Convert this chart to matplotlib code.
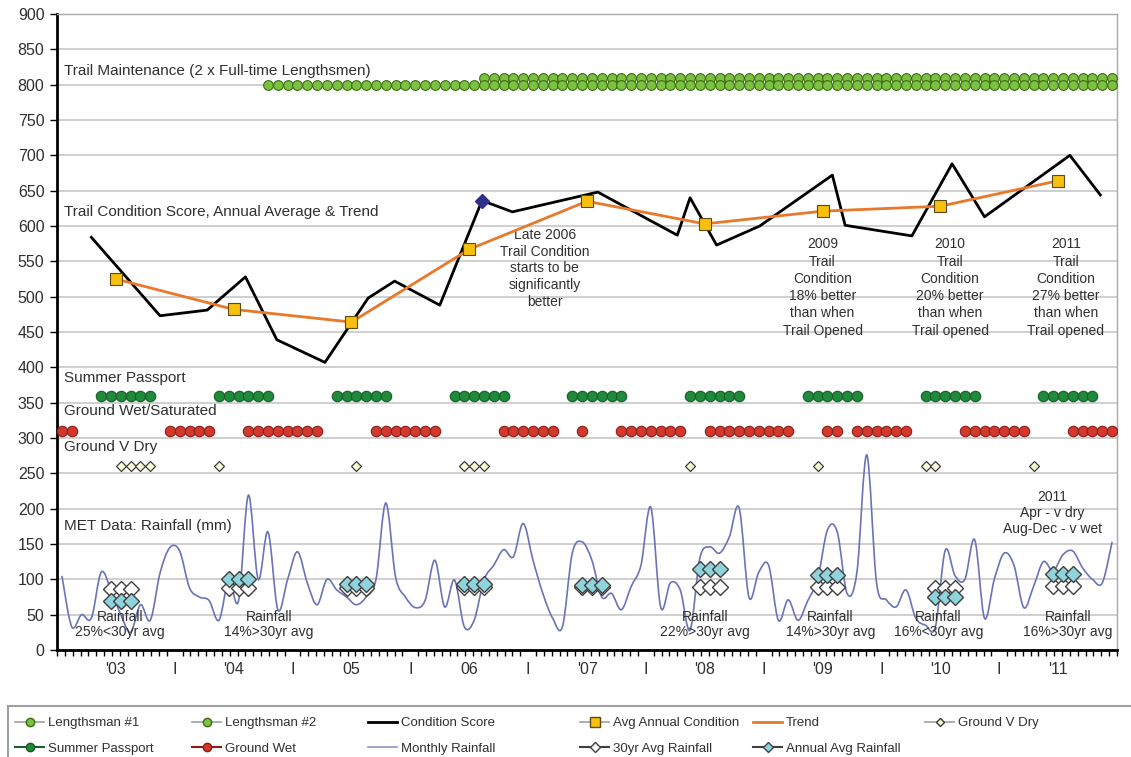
import numpy as np
import matplotlib
matplotlib.use("Agg")
import matplotlib.pyplot as plt
from matplotlib.lines import Line2D
from matplotlib.path import Path
from matplotlib.patches import PathPatch, Rectangle

plt.rcParams["font.family"] = ["Liberation Sans", "DejaVu Sans"]

# months counted from Jan 2003 (0) to Dec 2011 (107)
N_MONTHS = 108

LENGTHSMAN_1_START = 21   # Oct 2004
LENGTHSMAN_2_START = 43   # Aug 2006
LENGTHSMAN_1_LEVEL = 800
LENGTHSMAN_2_LEVEL = 810

SUMMER_MONTHS = [m for y in range(9) for m in range(12 * y + 4, 12 * y + 10)]
SUMMER_LEVEL = 360

GROUND_WET_MONTHS = ([0, 1] + list(range(11, 16)) + list(range(19, 27)) + list(range(32, 39))
                     + list(range(45, 51)) + [53] + list(range(57, 64)) + list(range(66, 75))
                     + [78, 79] + list(range(81, 87)) + list(range(92, 99)) + list(range(103, 108)))
GROUND_WET_LEVEL = 310

GROUND_DRY_MONTHS = [6, 7, 8, 9, 16, 30, 41, 42, 43, 64, 77, 88, 89, 99]
GROUND_DRY_LEVEL = 260

# condition score (month, score)
COND_MONTH = [3.5, 10.5, 15.3, 19.2, 22.4, 27.3, 31.7, 34.4, 39.0, 43.3, 46.4, 55.1,
              63.2, 64.5, 67.2, 71.6, 79.0, 80.3, 87.1, 91.2, 94.5, 103.2, 106.3]
COND_SCORE = [584, 473, 481, 528, 439, 407, 498, 522, 488, 636, 620, 648,
              587, 640, 573, 600, 672, 601, 586, 688, 613, 700, 644]
LATE_2006_INDEX = 9

YEARS = ["'03", "'04", "05", "06", "'07", "'08", "'09", "'10", "'11"]
AVG_ANNUAL = [525, 482, 464, 567, 635, 603, 621, 628, 664]

AVG_30YR = [87, 88, 88, 89, 89, 89, 89, 88, 90]
ANNUAL_RAIN = [70, 101, 93, 94, 92, 115, 106, 75, 108]

RAINFALL = [105, 33, 50, 45, 110, 85, 50, 25, 64, 42,
            109, 145, 140, 88, 75, 70, 42, 99, 70, 219,
            100, 167, 57, 100, 139, 95, 64, 100, 85, 75,
            64, 75, 100, 208, 103, 75, 60, 70, 127, 61,
            99, 33, 42, 99, 120, 142, 132, 179, 127, 80,
            45, 33, 137, 153, 127, 75, 80, 57, 90, 120,
            202, 61, 95, 85, 28, 130, 146, 137, 160, 201,
            75, 110, 120, 42, 71, 42, 70, 100, 170, 167,
            80, 110, 276, 95, 71, 61, 85, 45, 35, 33,
            141, 105, 100, 156, 45, 100, 137, 120, 60, 90,
            125, 112, 135, 140, 116, 100, 95, 153]

TEXT = "#303030"


def smooth_path(x, y):
    # Catmull-Rom style bezier, like a spreadsheet "smoothed line"
    x = np.asarray(x, float)
    y = np.asarray(y, float)
    verts = [(x[0], y[0])]
    codes = [Path.MOVETO]
    n = len(x)
    for i in range(n - 1):
        i0 = max(i - 1, 0)
        i3 = min(i + 2, n - 1)
        c1 = (x[i] + (x[i + 1] - x[i0]) / 6, y[i] + (y[i + 1] - y[i0]) / 6)
        c2 = (x[i + 1] - (x[i3] - x[i]) / 6, y[i + 1] - (y[i3] - y[i]) / 6)
        verts += [c1, c2, (x[i + 1], y[i + 1])]
        codes += [Path.CURVE4] * 3
    return Path(verts, codes)


fig = plt.figure(figsize=(11.31, 7.57), dpi=100)
ax = fig.add_axes([57 / 1131, 1 - 650 / 757, 1060 / 1131, 636 / 757])
ax.set_xlim(0, N_MONTHS)
ax.set_ylim(0, 900)

ax.set_yticks(np.arange(0, 901, 50))
ax.yaxis.grid(True, color="#cccccc", lw=1.3)
ax.set_axisbelow(True)
for s in ["top", "right"]:
    ax.spines[s].set_color("#a8a8a8")
    ax.spines[s].set_linewidth(1)
for s in ["left", "bottom"]:
    ax.spines[s].set_color("black")
    ax.spines[s].set_linewidth(2)
ax.tick_params(axis="y", labelsize=11.5, labelcolor=TEXT, length=5, width=1, pad=4)

mid = [12 * i + 6 for i in range(9)]
bounds = [12 * i for i in range(1, 9)]
pos = sorted(mid + bounds)
labels = []
for p in pos:
    labels.append(YEARS[p // 12] if p % 12 == 6 else "I")
ax.set_xticks(pos, labels)
ax.tick_params(axis="x", length=0, pad=9, labelsize=11.5, labelcolor=TEXT)
ax.set_xticks(np.arange(0, N_MONTHS + 0.01, 0.8), minor=True)
ax.tick_params(axis="x", which="minor", length=4, width=1, color="black")

months = np.arange(N_MONTHS) + 0.5

# lengthsmen
l1 = months[LENGTHSMAN_1_START:]
l2 = months[LENGTHSMAN_2_START:]
ax.plot(l2, [LENGTHSMAN_2_LEVEL] * len(l2), ls="none", marker="o", ms=7,
        mfc="#7cc242", mec="#3d6b12", mew=0.8, zorder=4)
ax.plot(l1, [LENGTHSMAN_1_LEVEL] * len(l1), ls="none", marker="o", ms=7,
        mfc="#7cc242", mec="#3d6b12", mew=0.8, zorder=4)

# condition score and trend
ax.plot(COND_MONTH, COND_SCORE, color="black", lw=2, zorder=5)
ax.plot(COND_MONTH[LATE_2006_INDEX], COND_SCORE[LATE_2006_INDEX], marker="D", ms=7,
        color="#2e2f8a", zorder=7)
ax.plot(mid, AVG_ANNUAL, color="#e8782a", lw=2, zorder=5)
ax.plot(mid, AVG_ANNUAL, ls="none", marker="s", ms=8, mfc="#f7c00c", mec="#5a4a10",
        mew=0.8, zorder=6)

# status rows
ax.plot(months[SUMMER_MONTHS], [SUMMER_LEVEL] * len(SUMMER_MONTHS), ls="none",
        marker="o", ms=7.5, mfc="#1f8a3a", mec="#145c26", mew=0.8, zorder=4)
ax.plot(months[GROUND_WET_MONTHS], [GROUND_WET_LEVEL] * len(GROUND_WET_MONTHS), ls="none",
        marker="o", ms=7.5, mfc="#d2382b", mec="#8a1e16", mew=0.8, zorder=4)
ax.plot(months[GROUND_DRY_MONTHS], [GROUND_DRY_LEVEL] * len(GROUND_DRY_MONTHS), ls="none",
        marker="D", ms=4.8, mfc="#fdfdd8", mec="#3a3a3a", mew=0.9, zorder=4)

# rainfall
ax.add_patch(PathPatch(smooth_path(months, RAINFALL), fill=False, ec="#6b73b6", lw=1.2,
                       zorder=3))
for i, m in enumerate(mid):
    xs = [m - 1 + 0.5, m + 0.5, m + 1 + 0.5]
    ax.plot(xs, [AVG_30YR[i]] * 3, ls="none", marker="D", ms=8, mfc="white",
            mec="#404040", mew=1, zorder=6)
    ax.plot(xs, [ANNUAL_RAIN[i]] * 3, ls="none", marker="D", ms=8, mfc="#8fd4dd",
            mec="#404040", mew=1, zorder=6)

# labels
fs = 10
fs_big = 11
ax.text(0.7, 820, "Trail Maintenance (2 x Full-time Lengthsmen)", fontsize=fs_big,
        color=TEXT, va="center")
ax.text(0.7, 620, "Trail Condition Score, Annual Average & Trend", fontsize=fs_big,
        color=TEXT, va="center")
ax.text(0.7, 385, "Summer Passport", fontsize=fs_big, color=TEXT, va="center")
ax.text(0.7, 338, "Ground Wet/Saturated", fontsize=fs_big, color=TEXT, va="center")
ax.text(0.7, 287, "Ground V Dry", fontsize=fs_big, color=TEXT, va="center")
ax.text(0.7, 176, "MET Data: Rainfall (mm)", fontsize=fs_big, color=TEXT, va="center")

ax.text(49.7, 540, "Late 2006\nTrail Condition\nstarts to be\nsignificantly\nbetter",
        fontsize=fs, color=TEXT, ha="center", va="center", linespacing=1.25)
notes = [(78.0, "2009\nTrail\nCondition\n18% better\nthan when\nTrail Opened"),
         (91.0, "2010\nTrail\nCondition\n20% better\nthan when\nTrail opened"),
         (102.8, "2011\nTrail\nCondition\n27% better\nthan when\nTrail opened")]
for x, t in notes:
    ax.text(x, 513, t, fontsize=fs, color=TEXT, ha="center", va="center", linespacing=1.3)

rain_notes = [(6.4, "Rainfall\n25%<30yr avg"), (21.6, "Rainfall\n14%>30yr avg"),
              (66.0, "Rainfall\n22%>30yr avg"), (78.8, "Rainfall\n14%>30yr avg"),
              (89.8, "Rainfall\n16%<30yr avg"), (103.0, "Rainfall\n16%>30yr avg")]
for x, t in rain_notes:
    ax.text(x, 36, t, fontsize=fs, color=TEXT, ha="center", va="center", linespacing=1.1,
            zorder=8)
ax.text(101.4, 194, "2011\nApr - v dry\nAug-Dec - v wet", fontsize=fs, color=TEXT,
        ha="center", va="center", linespacing=1.15)

# legend, laid out in columns like the original
def h(**kw):
    return Line2D([], [], **kw)

cols = [
    (15, [(h(color="#a0a0a0", lw=1.2, marker="o", ms=6, mfc="#7cc242", mec="#3d6b12"), "Lengthsman #1"),
          (h(color="#1e5a30", lw=1.5, marker="o", ms=6, mfc="#1f8a3a", mec="#145c26"), "Summer Passport")]),
    (192, [(h(color="#a0a0a0", lw=1.2, marker="o", ms=6, mfc="#7cc242", mec="#3d6b12"), "Lengthsman #2"),
           (h(color="#8a1e16", lw=1.5, marker="o", ms=6, mfc="#d2382b", mec="#8a1e16"), "Ground Wet")]),
    (368, [(h(color="black", lw=2), "Condition Score"),
           (h(color="#8f95c4", lw=1.2), "Monthly Rainfall")]),
    (580, [(h(color="#a0a0a0", lw=1.2, marker="s", ms=6.5, mfc="#f7c00c", mec="#5a4a10"), "Avg Annual Condition"),
           (h(color="#404040", lw=1.5, marker="D", ms=5, mfc="white", mec="#404040"), "30yr Avg Rainfall")]),
    (753, [(h(color="#e8782a", lw=2), "Trend"),
           (h(color="#404040", lw=1.5, marker="D", ms=5, mfc="#8fd4dd", mec="#404040"), "Annual Avg Rainfall")]),
    (925, [(h(color="#a0a0a0", lw=1.2, marker="D", ms=4.5, mfc="#fdfdd8", mec="#3a3a3a"), "Ground V Dry")]),
]
for x, items in cols:
    fig.legend([i[0] for i in items], [i[1] for i in items], loc="upper left",
               bbox_to_anchor=(x / 1131, 1 - 717 / 757), frameon=False, fontsize=9.5,
               handlelength=2.2, handletextpad=0.3, borderpad=0, borderaxespad=0,
               labelspacing=1.0, labelcolor=TEXT)
fig.patches.append(Rectangle((8 / 1131, -0.05), 1.2, 0.05 + (757 - 706) / 757,
                             transform=fig.transFigure, fill=False, ec="#a0a0a0", lw=1.5))

fig.savefig("out.png", dpi=100)
